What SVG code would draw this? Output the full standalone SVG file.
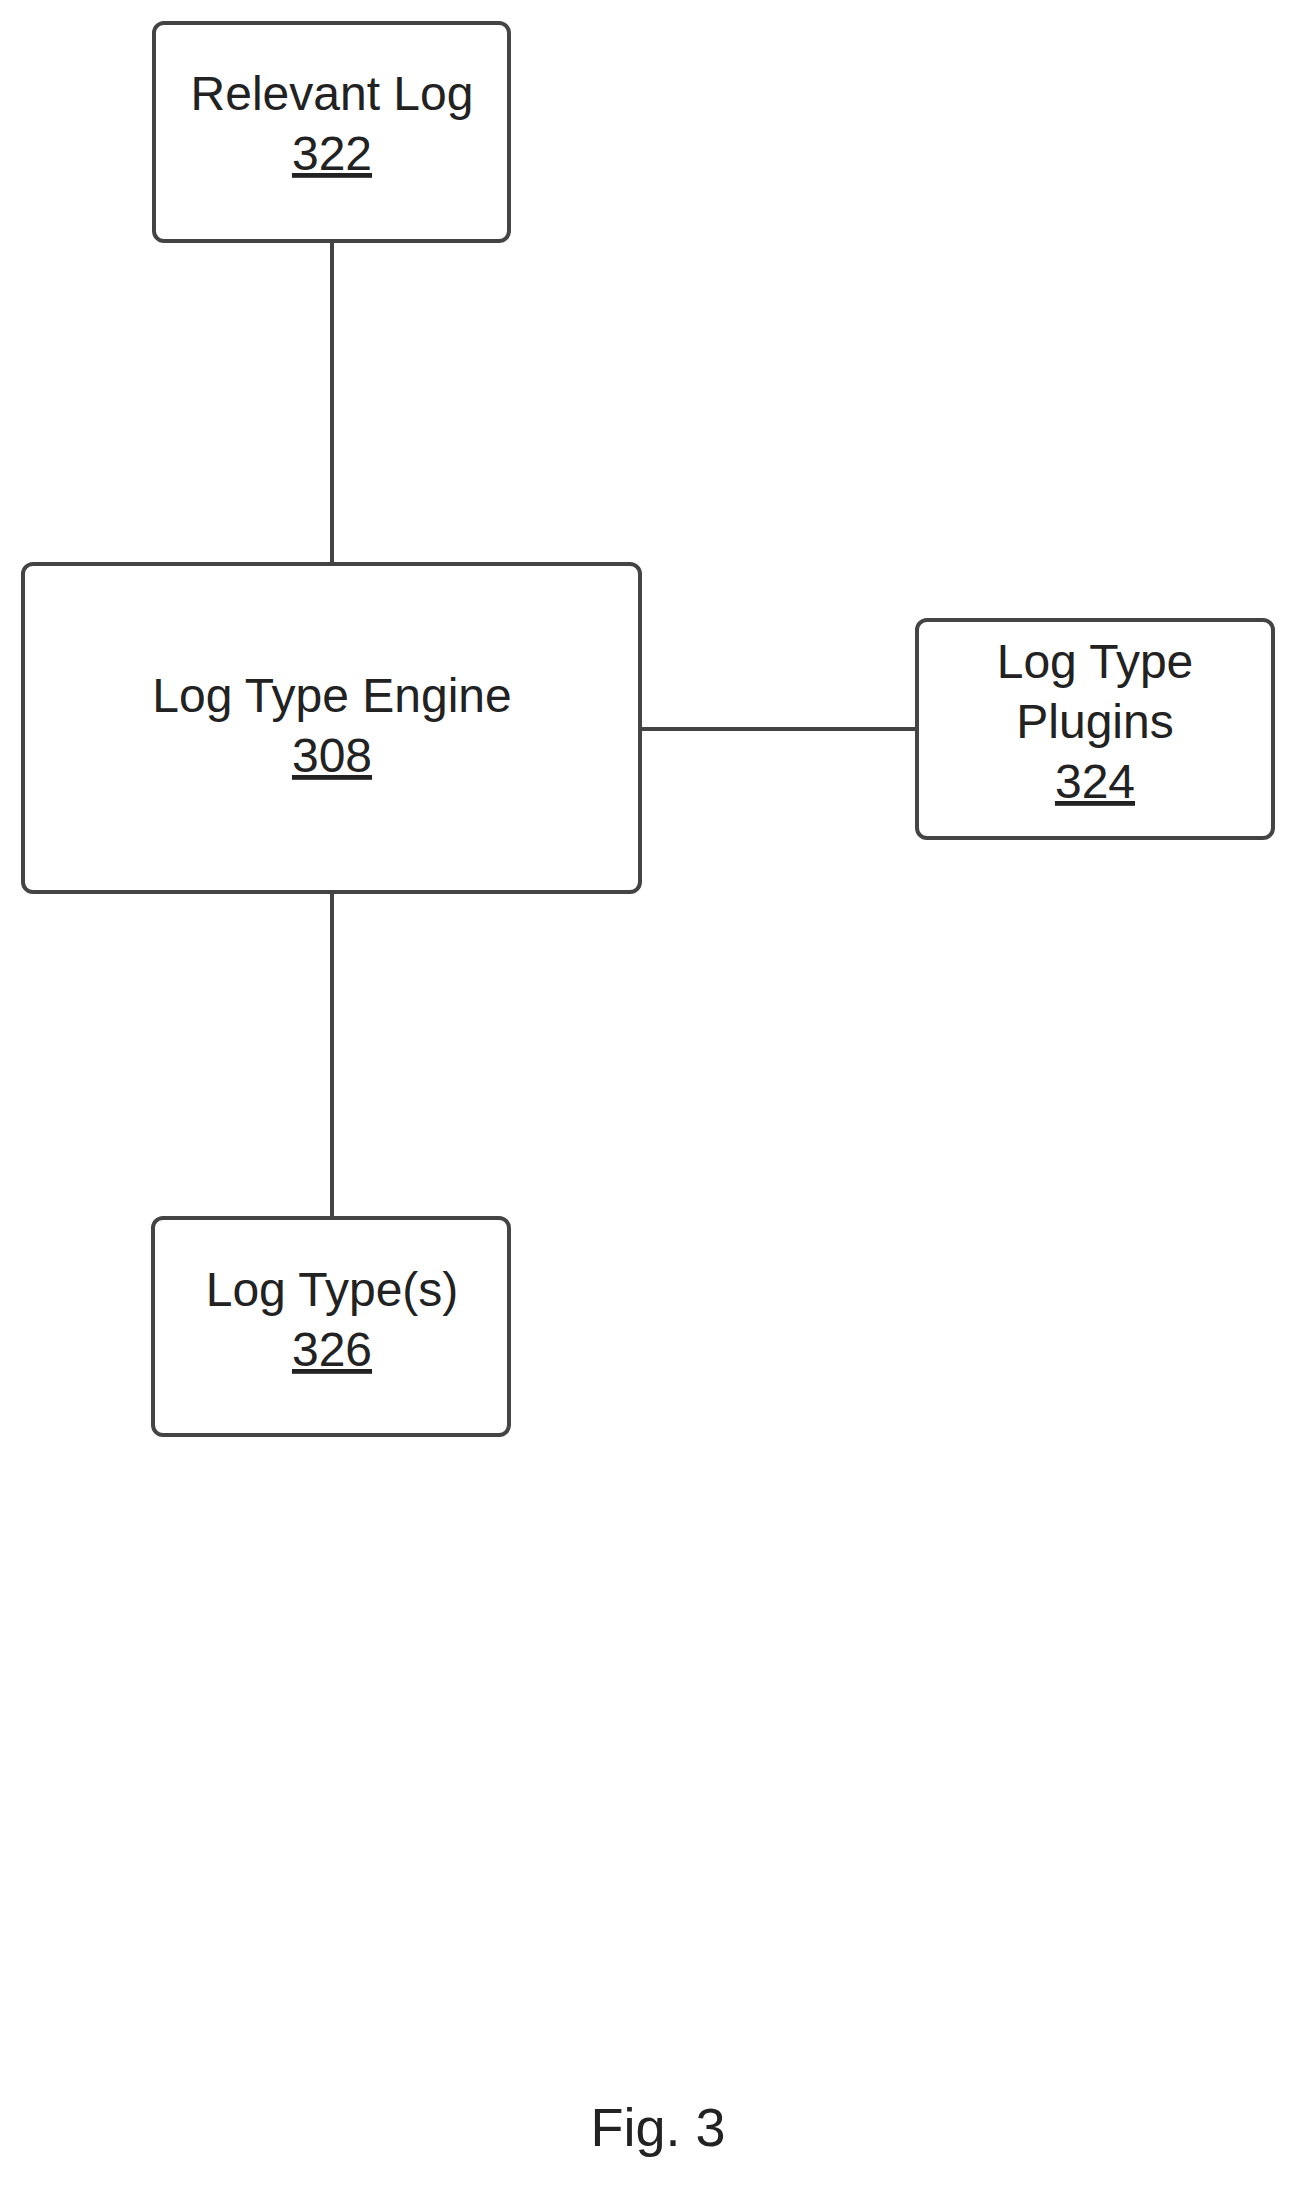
<svg xmlns="http://www.w3.org/2000/svg" width="1302" height="2186" viewBox="0 0 1302 2186">
<style>
.box{fill:#fff;stroke:#444;stroke-width:4}
.t{font-family:"Liberation Sans",Arial,sans-serif;font-size:48px;fill:#222;text-anchor:middle}
.n{text-decoration:underline}
.c{stroke:#444;stroke-width:4;fill:none}
</style>
<rect width="1302" height="2186" fill="#fff"/>
<g id="connectors">
<line class="c" x1="332" y1="241" x2="332" y2="564"/>
<line class="c" x1="332" y1="892" x2="332" y2="1218"/>
<line class="c" x1="640" y1="729" x2="917" y2="729"/>
</g>
<g id="n322"><rect class="box" x="154" y="23" width="355" height="218" rx="10"/>
<text class="t" x="332" y="110">Relevant Log</text><text class="t n" x="332" y="170">322</text></g>
<g id="n308"><rect class="box" x="23" y="564" width="617" height="328" rx="10"/>
<text class="t" x="332" y="712">Log Type Engine</text><text class="t n" x="332" y="772">308</text></g>
<g id="n324"><rect class="box" x="917" y="620" width="356" height="218" rx="10"/>
<text class="t" x="1095" y="678">Log Type</text><text class="t" x="1095" y="738">Plugins</text><text class="t n" x="1095" y="798">324</text></g>
<g id="n326"><rect class="box" x="153" y="1218" width="356" height="217" rx="10"/>
<text class="t" x="332" y="1306">Log Type(s)</text><text class="t n" x="332" y="1366">326</text></g>
<text class="t" x="658" y="2146" style="font-size:54px">Fig. 3</text>
</svg>
